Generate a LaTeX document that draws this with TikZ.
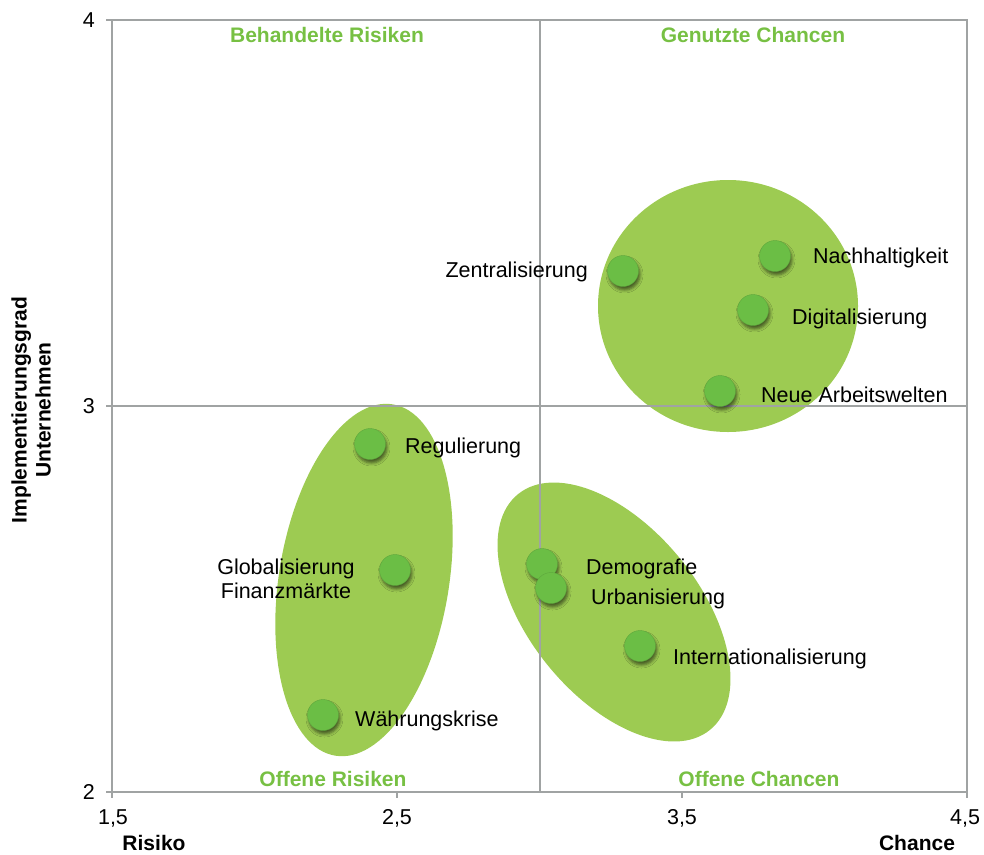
\documentclass[tikz,border=0pt]{standalone}
\usepackage{fontspec}
\setmainfont{Liberation Sans}
\usetikzlibrary{shadows.blur}
\definecolor{ellg}{HTML}{9DCB52}
\definecolor{dotg}{HTML}{6BBE45}
\definecolor{labg}{HTML}{77C043}
\definecolor{gridg}{HTML}{A0A3A3}
\begin{document}
\begin{tikzpicture}[x=1pt,y=-1pt,
  every node/.style={font=\fontsize{21.5}{24}\selectfont, inner sep=0pt},
  gridline/.style={draw=gridg, line width=1.8pt},
  tickline/.style={draw=gridg, line width=1.5pt},
  cloud/.style={fill=ellg},
  dotmark/.style={circle, minimum size=31pt, fill=dotg, draw=dotg!88!black, line width=0.4pt,
    blur shadow={shadow xshift=1.5pt, shadow yshift=-3.5pt, shadow blur radius=3pt, shadow opacity=55}},
  lbl/.style={text=black},
  quad/.style={text=labg, font=\fontsize{21}{24}\selectfont\bfseries},
  axlbl/.style={text=black, font=\fontsize{21}{24}\selectfont\bfseries},
  tick/.style={text=black}]
\useasboundingbox (0,0) rectangle (984,854);
% clusters
\fill[cloud] (728,306) ellipse [x radius=130pt, y radius=126pt];
\fill[cloud] (364,580) ellipse [x radius=178pt, y radius=85pt, rotate=80.7];
\fill[cloud] (614,612) ellipse [x radius=152pt, y radius=85pt, rotate=-50.8];
% frame and grid
\coordinate (tl) at (112,20);
\coordinate (tr) at (967,20);
\coordinate (bl) at (112,792);
\coordinate (br) at (967,792);
\coordinate (mt) at (540,20);
\coordinate (mb) at (540,792);
\coordinate (ml) at (112,406);
\coordinate (mr) at (967,406);
\draw[gridline] (tl) -- (tr) -- (br) -- (bl) -- cycle;
\draw[gridline] (mt) -- (mb);
\draw[gridline] (ml) -- (mr);
% ticks
\foreach \yy in {20,406,792} \draw[tickline] (106,\yy) -- (112,\yy);
\foreach \xx in {112,397,682,967} \draw[tickline] (\xx,792) -- (\xx,798);
% tick labels
\node[tick, anchor=east] (y4) at (95,20) {4};
\node[tick, anchor=east] (y3) at (95,406) {3};
\node[tick, anchor=east] (y2) at (95,792) {2};
\node[tick, anchor=north] (x15) at (113,809) {1,5};
\node[tick, anchor=north] (x25) at (397,809) {2,5};
\node[tick, anchor=north] (x35) at (682,809) {3,5};
\node[tick, anchor=north] (x45) at (965,809) {4,5};
% axis titles
\node[axlbl] (risiko) at (154,843) {Risiko};
\node[axlbl] (chance) at (917,843) {Chance};
\node[axlbl, rotate=90, align=center] (ytitle) at (31,410) {Implementierungsgrad\\Unternehmen};
% quadrant labels
\node[quad] (q1) at (327,35) {Behandelte Risiken};
\node[quad] (q2) at (753,35) {Genutzte Chancen};
\node[quad] (q3) at (333,779) {Offene Risiken};
\node[quad] (q4) at (759,779) {Offene Chancen};
% dots
\node[dotmark] (zen) at (623,271) {};
\node[dotmark] (nach) at (775,256) {};
\node[dotmark] (digi) at (753,310) {};
\node[dotmark] (neue) at (720,391) {};
\node[dotmark] (regu) at (370,444) {};
\node[dotmark] (glob) at (395,570) {};
\node[dotmark] (waehr) at (323,715) {};
\node[dotmark] (demo) at (542,564) {};
\node[dotmark] (urban) at (551,588) {};
\node[dotmark] (inter) at (640,646) {};
% labels
\node[lbl, anchor=mid east] (zenl) at (588,275) {Zentralisierung};
\node[lbl, anchor=mid west] (nachl) at (813,261) {Nachhaltigkeit};
\node[lbl, anchor=mid west] (digil) at (792,322) {Digitalisierung};
\node[lbl, anchor=mid west] (neuel) at (761,400) {Neue Arbeitswelten};
\node[lbl, anchor=mid west] (regul) at (405,451) {Regulierung};
\node[lbl, align=center] (globl) at (286,579) {Globalisierung\\Finanzmärkte};
\node[lbl, anchor=mid west] (waehrl) at (355,724) {Währungskrise};
\node[lbl, anchor=mid west] (demol) at (586,572) {Demografie};
\node[lbl, anchor=mid west] (urbanl) at (591,602) {Urbanisierung};
\node[lbl, anchor=mid west] (interl) at (673,662) {Internationalisierung};
\end{tikzpicture}
\end{document}
